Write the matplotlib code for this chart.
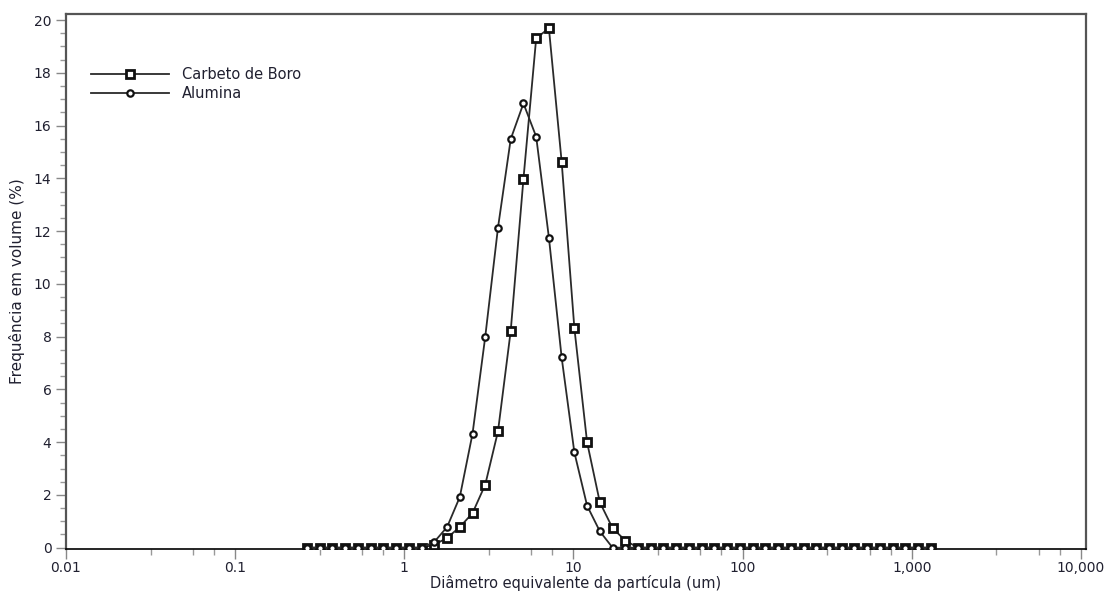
import matplotlib.pyplot as plt
from matplotlib.ticker import FixedLocator, NullFormatter
import numpy as np

# Classes de tamanho (um) - 50 classes, razao 2^(1/4)
diametro = 0.266 * 2 ** (np.arange(50) / 4)

# Frequencia em volume (%)
carbeto = [0] * 10 + [0.11, 0.37, 0.78, 1.31, 2.39, 4.41, 8.22, 13.98, 19.31, 19.69,
                      14.63, 8.32, 3.99, 1.72, 0.74, 0.27] + [0] * 24
alumina = [0] * 10 + [0.22, 0.78, 1.92, 4.32, 8.00, 12.13, 15.49, 16.84, 15.58, 11.75,
                      7.21, 3.61, 1.59, 0.62] + [0] * 26

major_x = [0.01, 0.1, 1, 10, 100, 1000, 10000]
major_x_labels = ['0.01', '0.1', '1', '10', '100', '1,000', '10,000']

txt = '#202030'

fig = plt.figure(figsize=(11.09, 5.96), dpi=100)
ax = fig.add_axes([0.0595, 0.0789, 0.9195, 0.8976])

ax.plot(diametro, carbeto, color='#2a2a2a', lw=1.3, marker='s', ms=6.3,
        mfc='white', mec='#111111', mew=2.0, label='Carbeto de Boro', zorder=3)
ax.plot(diametro, alumina, color='#2a2a2a', lw=1.3, marker='o', ms=4.6,
        mfc='white', mec='#111111', mew=1.6, label='Alumina', zorder=4)

ax.set_xscale('log')
ax.set_xlim(0.01, 10 ** 4.028)
ax.set_ylim(-0.05, 20.23)

ax.xaxis.set_major_locator(FixedLocator(major_x))
ax.set_xticklabels(major_x_labels)
minor_x = []
for d in range(-2, 4):
    for f in (0.5, 0.75, 0.875):
        minor_x.append(10 ** (d + f))
ax.xaxis.set_minor_locator(FixedLocator(minor_x))
ax.xaxis.set_minor_formatter(NullFormatter())

ax.set_yticks(np.arange(0, 21, 2))
ax.set_yticks(np.arange(0, 20.01, 0.5), minor=True)

ax.tick_params(axis='both', which='major', direction='out', length=7, width=1,
               color='#888888', labelsize=10, labelcolor=txt)
ax.tick_params(axis='both', which='minor', direction='out', length=4, width=1,
               color='#999999')
ax.tick_params(axis='x', which='major', pad=2)

for s in ['left', 'top', 'right']:
    ax.spines[s].set_color('#555555')
    ax.spines[s].set_linewidth(1.6)
ax.spines['bottom'].set_color('black')
ax.spines['bottom'].set_linewidth(1.2)

ax.set_xlabel('Diâmetro equivalente da partícula (um)', fontsize=10.5, color=txt, labelpad=0)
ax.set_ylabel('Frequência em volume (%)', fontsize=11, color=txt, labelpad=6)

ax.legend(loc='upper left', bbox_to_anchor=(0.012, 0.925), frameon=False, fontsize=10.5,
          handlelength=5.3, handletextpad=0.9, labelspacing=0.25, labelcolor=txt)

fig.savefig('out.png', dpi=100)
